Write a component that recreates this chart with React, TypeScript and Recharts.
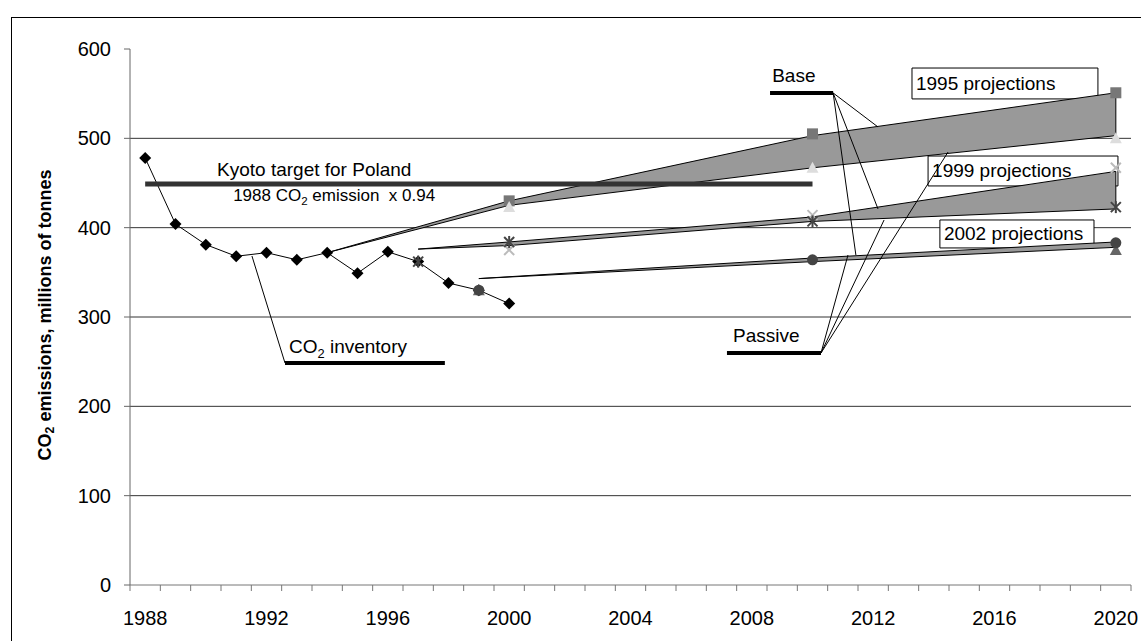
import React from "react";
import {
  ComposedChart,
  Line,
  Area,
  XAxis,
  YAxis,
  CartesianGrid,
  ReferenceLine,
  ReferenceArea,
  ReferenceDot,
} from "recharts";

const FONT = '"Liberation Sans", Arial, sans-serif';

// CO2 inventory (actual emissions, Mt)
const inventoryYears = [1988, 1989, 1990, 1991, 1992, 1993, 1994, 1995, 1996, 1997, 1998, 1999, 2000];
const inventoryValues = [478, 404, 381, 368, 372, 364, 372, 349, 373, 362, 338, 330, 315];

// Kyoto target: 1988 emission x 0.94
const kyotoYears = [1988, 2010];
const kyotoValues = [449, 449];

// projection bands, base (upper edge) and passive (lower edge)
const p1995Years = [1994, 2000, 2010, 2020];
const p1995Base = [372, 430, 503, 551];
const p1995Passive = [372, 425, 467, 503];

const p1999Years = [1997, 2000, 2010, 2020];
const p1999Base = [376, 384, 412, 463];
const p1999Passive = [376, 380, 407, 421];

const p2002Years = [1999, 2010, 2020];
const p2002Base = [343, 366, 384];
const p2002Passive = [343, 362, 378];

// scenario markers as they sit in the source chart
const squareYears = [2000, 2010, 2020];
const squareValues = [430, 505, 551];
const lightTriYears = [2000, 2010, 2020];
const lightTriValues = [423, 467, 500];
const crossYears = [2000, 2010, 2020];
const crossValues = [375, 414, 467];
const starYears = [1997, 2000, 2010, 2020];
const starValues = [362, 384, 407, 423];
const circleYears = [1999, 2010, 2020];
const circleValues = [330, 364, 383];
const darkTriYears = [1999, 2020];
const darkTriValues = [330, 375];

const yTicks = [0, 100, 200, 300, 400, 500, 600];
const gridValues = [100, 200, 300, 400, 500];
const labelYears = [1988, 1992, 1996, 2000, 2004, 2008, 2012, 2016, 2020];

const FIRST = 1988;
const LAST = 2020;
const xTicks = Array.from({ length: LAST - FIRST + 2 }, (_, i) => FIRST - 0.5 + i);

const W = 1141;
const H = 641;
const MARGIN = { top: 49, right: 10, bottom: 16, left: 70 };
const Y_W = 60;
const SLOT = (W - MARGIN.left - MARGIN.right - Y_W) / (LAST - FIRST + 1);

const pts = (xs: number[], ys: number[]) => xs.map((x, i) => ({ x, y: ys[i] }));
const band = (xs: number[], lo: number[], hi: number[]) =>
  xs.map((x, i) => ({ x, range: [lo[i], hi[i]] }));
const edge = (lo: number[], hi: number[]) => [
  { x: LAST, y: lo[lo.length - 1] },
  { x: LAST, y: hi[hi.length - 1] },
];

// annotation geometry in data units (year, Mt)
const leaders = [
  [2010.68, 550.8, 2012.16, 512.7],
  [2010.68, 550.8, 2012.16, 420.9],
  [2010.68, 550.8, 2011.43, 369.4],
  [2010.28, 259.7, 2011.17, 369.4],
  [2010.28, 259.7, 2012.36, 408.6],
  [2010.28, 259.7, 2014.47, 484.7],
  [1992.61, 248.5, 1991.52, 368.3],
];
const underlines = [
  [2008.6, 2010.68, 550.8],
  [2007.18, 2010.28, 259.7],
  [1992.61, 1997.88, 248.5],
];
const boxes = [
  { x1: 2013.28, x2: 2019.41, y1: 544.1, y2: 578.7, text: "1995 projections" },
  { x1: 2013.81, x2: 2020.07, y1: 446.7, y2: 480.2, text: "1999 projections" },
  { x1: 2014.2, x2: 2019.28, y1: 377.3, y2: 408.6, text: "2002 projections" },
];

type Kind = "diamond" | "square" | "tri" | "cross" | "star" | "circle";

function marker(kind: Kind, color: string) {
  return (p: any) => {
    const { cx, cy, index } = p;
    if (cx == null || cy == null) return <g key={index} />;
    const s = 6;
    if (kind === "diamond")
      return (
        <polygon key={index} points={`${cx},${cy - s} ${cx + s},${cy} ${cx},${cy + s} ${cx - s},${cy}`} fill={color} />
      );
    if (kind === "square")
      return <rect key={index} x={cx - 5.5} y={cy - 5.5} width={11} height={11} fill={color} />;
    if (kind === "tri")
      return (
        <polygon key={index} points={`${cx},${cy - s} ${cx + s},${cy + 5} ${cx - s},${cy + 5}`} fill={color} />
      );
    if (kind === "circle") return <circle key={index} cx={cx} cy={cy} r={5.5} fill={color} />;
    const d = 5;
    return (
      <g key={index} stroke={color} strokeWidth={2}>
        <line x1={cx - d} y1={cy - d} x2={cx + d} y2={cy + d} />
        <line x1={cx - d} y1={cy + d} x2={cx + d} y2={cy - d} />
        {kind === "star" && <line x1={cx} y1={cy - 6} x2={cx} y2={cy + 6} />}
      </g>
    );
  };
}

function YearTick(p: any) {
  const yr = Math.round(p.payload.value + 0.5);
  if (!labelYears.includes(yr)) return <g />;
  return (
    <text x={p.x + SLOT / 2} y={p.y + 34} textAnchor="middle" fontSize={20} fontFamily={FONT} fill="#000">
      {yr}
    </text>
  );
}

// text with a subscript 2 after "before"
function co2(before: string, after: string, size: number) {
  const shift = size * 0.25;
  return (
    <>
      <tspan>{before}</tspan>
      <tspan fontSize={size * 0.68} dy={shift}>2</tspan>
      <tspan dy={-shift}>{after}</tspan>
    </>
  );
}

function note(text: React.ReactNode, size = 19) {
  return (p: any) => (
    <text x={p.cx} y={p.cy} fontSize={size} fontFamily={FONT} fill="#000" style={{ whiteSpace: "pre" }}>
      {text}
    </text>
  );
}

const noteItems = [
  { x: 2008.67, y: 563.1, node: "Base", size: 19 },
  { x: 2007.38, y: 272.0, node: "Passive", size: 19 },
  { x: 1992.74, y: 259.7, node: co2("CO", " inventory", 19), size: 19 },
  { x: 1990.37, y: 457.9, node: "Kyoto target for Poland", size: 19 },
  { x: 1990.9, y: 429.9, node: co2("1988 CO", " emission  x 0.94", 17), size: 17 },
];

function YLabel(p: any) {
  const vb = p.viewBox;
  const cx = vb.x - 25;
  const cy = vb.y + vb.height / 2 - 2;
  return (
    <text
      x={cx}
      y={cy}
      transform={`rotate(-90, ${cx}, ${cy})`}
      textAnchor="middle"
      dominantBaseline="central"
      fontSize={18}
      fontWeight="bold"
      fontFamily={FONT}
      fill="#000"
    >
      {co2("CO", " emissions, millions of tonnes", 18)}
    </text>
  );
}

export default function App() {
  return (
    <div
      style={{
        position: "fixed",
        left: 0,
        top: 0,
        width: W,
        height: H,
        overflow: "hidden",
        background: "#fff",
      }}
    >
      <div
        style={{
          position: "absolute",
          left: 11,
          top: 17,
          width: 1200,
          height: 700,
          borderLeft: "1px solid #000",
          borderTop: "1px solid #000",
        }}
      />
      <div style={{ position: "absolute", left: 0, top: 0 }}>
        <ComposedChart width={W} height={H} margin={MARGIN}>
          <CartesianGrid vertical={false} horizontalValues={gridValues} stroke="#333" strokeWidth={1} />
          <XAxis
            type="number"
            dataKey="x"
            domain={[FIRST - 0.5, LAST + 0.5]}
            ticks={xTicks}
            interval={0}
            tickSize={6}
            tickMargin={0}
            tick={YearTick}
            stroke="#777"
            height={40}
            allowDataOverflow
          />
          <YAxis
            type="number"
            domain={[0, 600]}
            ticks={yTicks}
            interval={0}
            width={Y_W}
            tickSize={6}
            tickMargin={13}
            stroke="#666"
            tick={{ fill: "#000", fontSize: 20, fontFamily: FONT }}
            label={YLabel}
          />

          {boxes.map((b, i) => (
            <ReferenceArea
              key={`box${i}`}
              x1={b.x1}
              x2={b.x2}
              y1={b.y1}
              y2={b.y2}
              fill="#fff"
              fillOpacity={1}
              stroke="#000"
              strokeWidth={1}
              ifOverflow="visible"
              zIndex={50}
              label={(p: any) => (
                <text
                  x={p.viewBox.x + 4}
                  y={p.viewBox.y + p.viewBox.height / 2}
                  dominantBaseline="central"
                  fontSize={19}
                  fontFamily={FONT}
                  fill="#000"
                >
                  {b.text}
                </text>
              )}
            />
          ))}

          <Line data={pts(inventoryYears, inventoryValues)} dataKey="y" stroke="#000" strokeWidth={1}
            dot={marker("diamond", "#000")} activeDot={false} isAnimationActive={false} />

          <Line data={pts(squareYears, squareValues)} dataKey="y" stroke="none" dot={marker("square", "#777")} activeDot={false} isAnimationActive={false} />
          <Line data={pts(lightTriYears, lightTriValues)} dataKey="y" stroke="none" dot={marker("tri", "#ddd")} activeDot={false} isAnimationActive={false} />
          <Line data={pts(crossYears, crossValues)} dataKey="y" stroke="none" dot={marker("cross", "#bbb")} activeDot={false} isAnimationActive={false} />
          <Line data={pts(starYears, starValues)} dataKey="y" stroke="none" dot={marker("star", "#444")} activeDot={false} isAnimationActive={false} />
          <Line data={pts(darkTriYears, darkTriValues)} dataKey="y" stroke="none" dot={marker("tri", "#666")} activeDot={false} isAnimationActive={false} />
          <Line data={pts(circleYears, circleValues)} dataKey="y" stroke="none" dot={marker("circle", "#444")} activeDot={false} isAnimationActive={false} />

          <Area data={band(p1995Years, p1995Passive, p1995Base)} dataKey="range" type="linear" fill="#999" fillOpacity={1}
            stroke="#000" strokeWidth={1} dot={false} activeDot={false} isAnimationActive={false} zIndex={450} />
          <Area data={band(p1999Years, p1999Passive, p1999Base)} dataKey="range" type="linear" fill="#999" fillOpacity={1}
            stroke="#000" strokeWidth={1} dot={false} activeDot={false} isAnimationActive={false} zIndex={450} />
          <Area data={band(p2002Years, p2002Passive, p2002Base)} dataKey="range" type="linear" fill="#999" fillOpacity={1}
            stroke="#000" strokeWidth={1} dot={false} activeDot={false} isAnimationActive={false} zIndex={450} />
          <Line data={edge(p1995Passive, p1995Base)} dataKey="y" stroke="#000" strokeWidth={1} dot={false} activeDot={false} isAnimationActive={false} zIndex={460} />
          <Line data={edge(p1999Passive, p1999Base)} dataKey="y" stroke="#000" strokeWidth={1} dot={false} activeDot={false} isAnimationActive={false} zIndex={460} />

          <Line data={pts(kyotoYears, kyotoValues)} dataKey="y" stroke="#333" strokeWidth={5} dot={false} activeDot={false} isAnimationActive={false} zIndex={500} />

          {leaders.map((l, i) => (
            <ReferenceLine key={`ld${i}`} segment={[{ x: l[0], y: l[1] }, { x: l[2], y: l[3] }]}
              stroke="#000" strokeWidth={1} ifOverflow="visible" zIndex={600} />
          ))}
          {underlines.map((u, i) => (
            <ReferenceLine key={`ul${i}`} segment={[{ x: u[0], y: u[2] }, { x: u[1], y: u[2] }]}
              stroke="#000" strokeWidth={4} ifOverflow="visible" zIndex={600} />
          ))}
          {noteItems.map((n, i) => (
            <ReferenceDot key={`nt${i}`} x={n.x} y={n.y} r={0} ifOverflow="visible" zIndex={600} shape={note(n.node, n.size)} />
          ))}
        </ComposedChart>
      </div>
    </div>
  );
}
